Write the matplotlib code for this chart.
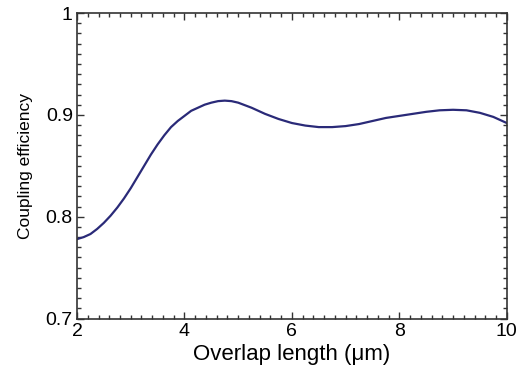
import matplotlib
matplotlib.use('Agg')
import matplotlib.pyplot as plt
from matplotlib.ticker import MultipleLocator

# данные
overlap_um = [2.000, 2.125, 2.250, 2.375, 2.500, 2.625, 2.750, 2.875, 3.000,
              3.125, 3.250, 3.375, 3.500, 3.625, 3.750, 3.875, 4.000, 4.125,
              4.250, 4.375, 4.500, 4.625, 4.750, 4.875, 5.000, 5.250, 5.500,
              5.750, 6.000, 6.250, 6.500, 6.750, 7.000, 7.250, 7.500, 7.750,
              8.000, 8.250, 8.500, 8.750, 9.000, 9.250, 9.500, 9.750, 10.000]
efficiency = [0.778, 0.780, 0.783, 0.788, 0.794, 0.801, 0.809, 0.818, 0.828,
              0.839, 0.850, 0.861, 0.871, 0.880, 0.888, 0.894, 0.899, 0.904,
              0.907, 0.910, 0.912, 0.9135, 0.914, 0.9135, 0.912, 0.907, 0.901,
              0.896, 0.892, 0.8895, 0.888, 0.888, 0.889, 0.891, 0.894, 0.897,
              0.899, 0.901, 0.903, 0.9045, 0.905, 0.9045, 0.902, 0.898, 0.892]

x_ticks = [2, 4, 6, 8, 10]
y_ticks = [0.7, 0.8, 0.9, 1.0]
y_tick_labels = ['0.7', '0.8', '0.9', '1']

plt.rcParams['font.family'] = ['Liberation Sans', 'DejaVu Sans']

fig = plt.figure(figsize=(5.29, 3.73), dpi=100)
ax = fig.add_axes([0.1456, 0.146, 0.8124, 0.819])

ax.plot(overlap_um, efficiency, color='#2a2a78', linewidth=1.6)

ax.set_xlim(2, 10)
ax.set_ylim(0.7, 1.0)
ax.set_xticks(x_ticks)
ax.set_yticks(y_ticks)
ax.set_yticklabels(y_tick_labels)
ax.xaxis.set_minor_locator(MultipleLocator(0.2))
ax.yaxis.set_minor_locator(MultipleLocator(0.01))

ax.tick_params(which='both', direction='in', top=True, right=True,
               color='#333333', width=1.0)
ax.tick_params(which='major', length=5, labelsize=14, pad=3)
ax.tick_params(which='minor', length=3)
for s in ax.spines.values():
    s.set_color('#333333')
    s.set_linewidth(1.2)

ax.set_xlabel('Overlap length (μm)', fontsize=16, labelpad=3)
ax.set_ylabel('Coupling efficiency', fontsize=12.5, labelpad=9)

fig.savefig('out.png', dpi=100)
